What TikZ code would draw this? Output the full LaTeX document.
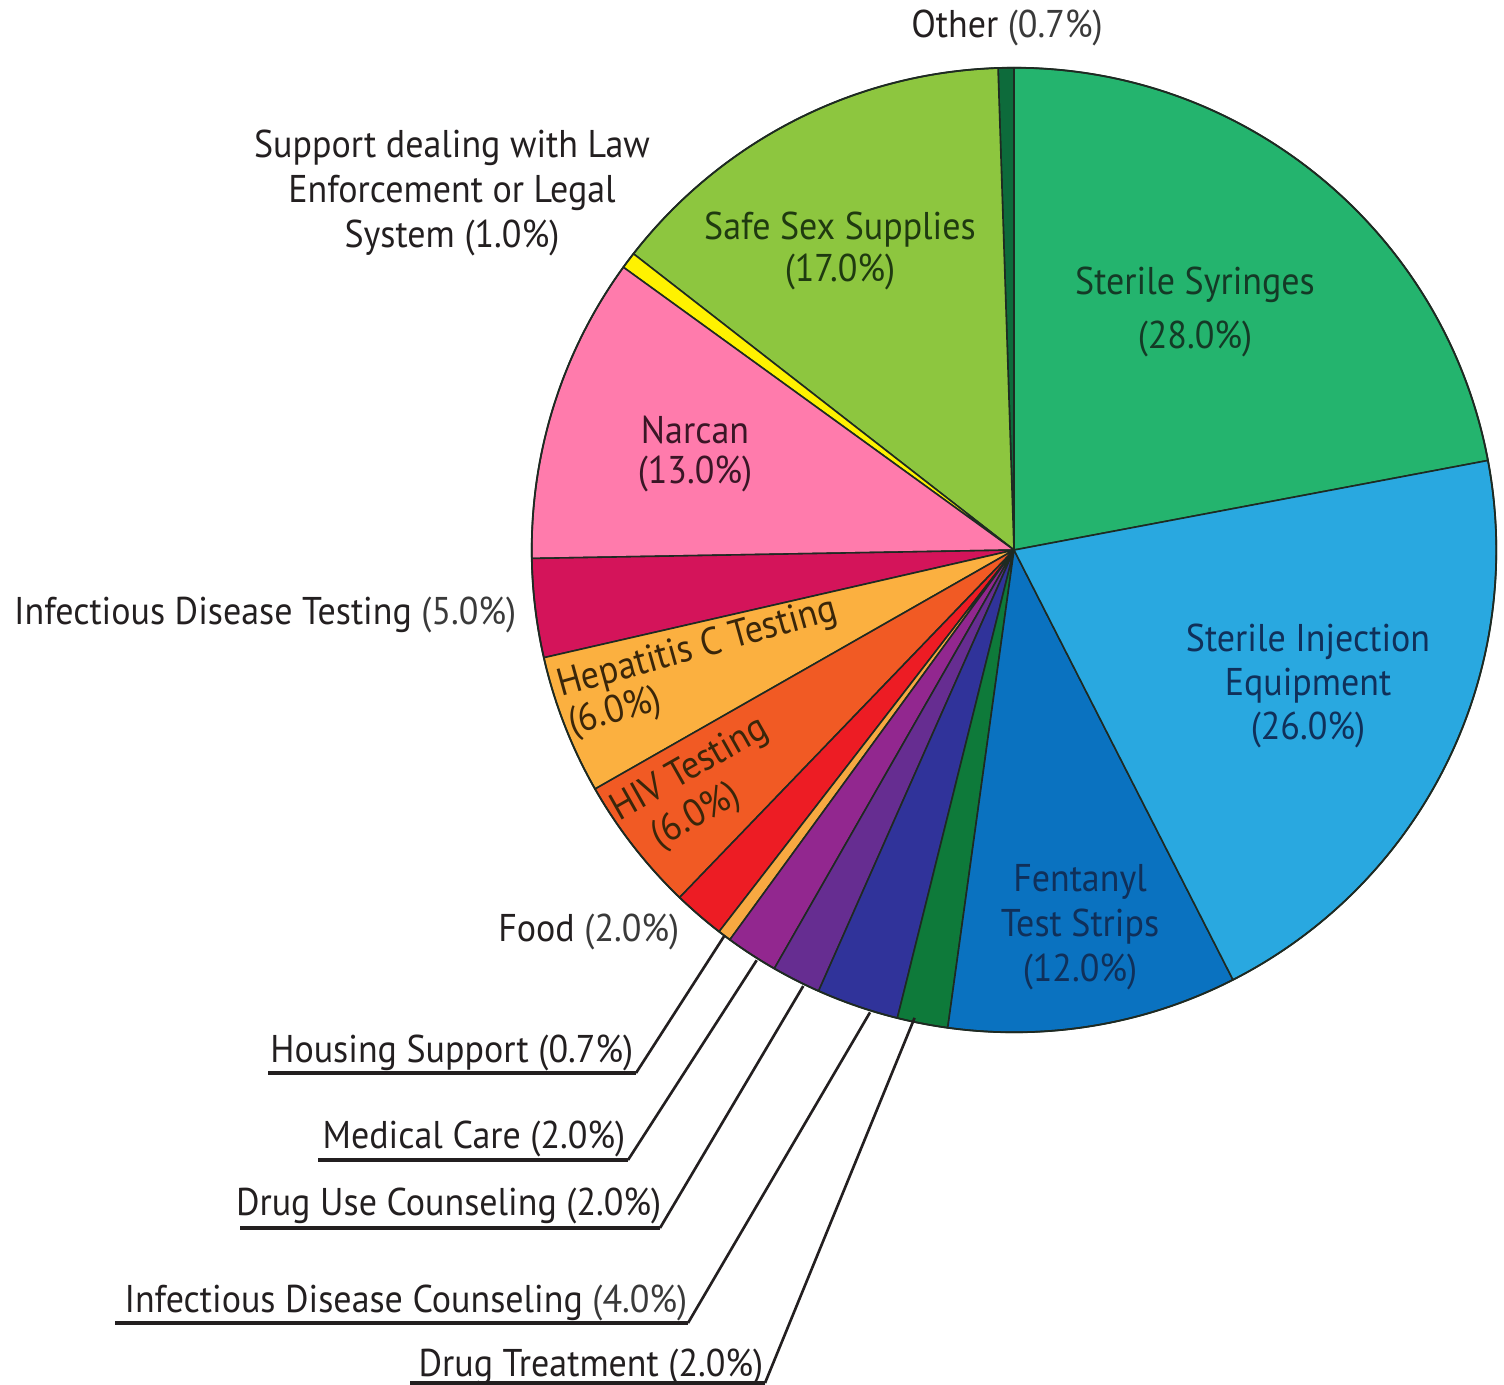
\documentclass[tikz,border=0pt]{standalone}
\usepackage{fontspec}
\setmainfont{PT Sans}[FakeStretch=0.93]
\definecolor{cOther}{HTML}{0D6B3B}
\definecolor{cSyr}{HTML}{24B46E}
\definecolor{cSie}{HTML}{29A8E0}
\definecolor{cFen}{HTML}{0A72C0}
\definecolor{cDt}{HTML}{0E7A3A}
\definecolor{cIdc}{HTML}{30339A}
\definecolor{cDuc}{HTML}{662D91}
\definecolor{cMed}{HTML}{92278F}
\definecolor{cHou}{HTML}{F7A941}
\definecolor{cFood}{HTML}{ED1C24}
\definecolor{cHiv}{HTML}{F15A24}
\definecolor{cHep}{HTML}{FBB040}
\definecolor{cIdt}{HTML}{D4145A}
\definecolor{cNar}{HTML}{FF7BAC}
\definecolor{cSup}{HTML}{FFF200}
\definecolor{cSafe}{HTML}{8DC63F}
\definecolor{edge}{HTML}{1E2A22}
\definecolor{txt}{HTML}{231F20}
\definecolor{pct}{HTML}{3A3A3A}
\definecolor{tGreen}{HTML}{143A26}
\definecolor{tLime}{HTML}{1F3A10}
\definecolor{tNavy}{HTML}{10305A}
\definecolor{tRose}{HTML}{3A1626}
\definecolor{tBrown}{HTML}{3A260A}
\newcommand\pieslice[3]{\filldraw[fill=#3, draw=edge, line width=0.45pt, line join=round] (C) -- ([shift={(#1:4.82cm)}]C) arc[start angle=#1, end angle=#2, radius=4.82cm] -- cycle;}
\begin{document}
\begin{tikzpicture}[x=0.01cm,y=-0.01cm,
  lab/.style={font=\fontsize{11}{12.8}\selectfont, inner sep=0pt, text=txt, align=center},
  leader/.style={draw=txt, line width=0.75pt},
  uline/.style={draw=txt, line width=1pt}]
\useasboundingbox (0,0) rectangle (1504,1384);
\coordinate (C) at (1014,550);
% slices
\pieslice{10.7}{90}{cSyr}
\pieslice{90}{91.9}{cOther}
\pieslice{91.9}{142.1}{cSafe}
\pieslice{142.1}{144.1}{cSup}
\pieslice{144.1}{181}{cNar}
\pieslice{181}{192.9}{cIdt}
\pieslice{192.9}{209.7}{cHep}
\pieslice{209.7}{226.1}{cHiv}
\pieslice{226.1}{232.3}{cFood}
\pieslice{232.3}{233.9}{cHou}
\pieslice{233.9}{240.2}{cMed}
\pieslice{240.2}{246.1}{cDuc}
\pieslice{246.1}{256}{cIdc}
\pieslice{256}{262.1}{cDt}
\pieslice{262.1}{297}{cFen}
\pieslice{297}{370.7}{cSie}
\draw[edge, line width=0.5pt] (C) circle[radius=4.82cm];
% labels inside / around
\node[lab] (other) at (1007,28) {Other {\color{pct}(0.7\%)}};
\node[lab] (support) at (452,193) {Support dealing with Law\\Enforcement or Legal\\System (1.0\%)};
\node[lab, text=tLime, font=\fontsize{11}{12}\selectfont] (safe) at (840,251) {Safe Sex Supplies\\(17.0\%)};
\node[lab, text=tGreen, font=\fontsize{11}{15.6}\selectfont] (syr) at (1195,312) {Sterile Syringes\\(28.0\%)};
\node[lab, text=tRose, font=\fontsize{11}{11.5}\selectfont] (nar) at (695,454) {Narcan\\(13.0\%)};
\node[lab, anchor=east] (idt) at (517,615) {Infectious Disease Testing {\color{pct}(5.0\%)}};
\node[lab, text=tBrown, rotate=15.6, align=left, font=\fontsize{11}{11.2}\selectfont] (hep) at (703,668) {Hepatitis C Testing\\(6.0\%)};
\node[lab, text=tBrown, rotate=29.5, font=\fontsize{11}{12.4}\selectfont] (hiv) at (701,789) {HIV Testing\\(6.0\%)\hspace*{0.9em}};
\node[lab, text=tNavy, font=\fontsize{11}{12.6}\selectfont] (sie) at (1308,686) {Sterile Injection\\Equipment\\(26.0\%)};
\node[lab, text=tNavy, font=\fontsize{11}{12.8}\selectfont] (fen) at (1080,927) {Fentanyl\\Test Strips\\(12.0\%)};
\node[lab, anchor=east] (food) at (680,932) {Food {\color{pct}(2.0\%)}};
% underlined labels
\node[lab, anchor=base east] (hou) at (634,1062) {Housing Support (0.7\%)};
\node[lab, anchor=base east] (med) at (626,1148) {Medical Care (2.0\%)};
\node[lab, anchor=base east] (duc) at (662,1215) {Drug Use Counseling (2.0\%)};
\node[lab, anchor=base east] (idc) at (688,1312) {Infectious Disease Counseling {\color{pct}(4.0\%)}};
\node[lab, anchor=base east] (dt) at (764,1376) {Drug Treatment (2.0\%)};
% rim points
\coordinate (rHou) at ([shift={(233.1:4.82cm)}]C);
\coordinate (rMed) at ([shift={(237.9:4.84cm)}]C);
\coordinate (rDuc) at ([shift={(244.2:4.84cm)}]C);
\coordinate (rIdc) at ([shift={(252.7:4.84cm)}]C);
\coordinate (rDt) at ([shift={(258:4.78cm)}]C);
% underline corners
\coordinate (hA) at (636,1073); \coordinate (hB) at (268,1073);
\coordinate (mA) at (628,1160); \coordinate (mB) at (318,1160);
\coordinate (uA) at (660,1228); \coordinate (uB) at (240,1228);
\coordinate (iA) at (688,1323); \coordinate (iB) at (115,1323);
\coordinate (dA) at (765,1383); \coordinate (dB) at (410,1383);
\draw[leader] (rHou) -- (hA); \draw[uline] (hA) -- (hB);
\draw[leader] (rMed) -- (mA); \draw[uline] (mA) -- (mB);
\draw[leader] (rDuc) -- (uA); \draw[uline] (uA) -- (uB);
\draw[leader] (rIdc) -- (iA); \draw[uline] (iA) -- (iB);
\draw[leader] (rDt) -- (dA); \draw[uline] (dA) -- (dB);
\end{tikzpicture}
\end{document}
